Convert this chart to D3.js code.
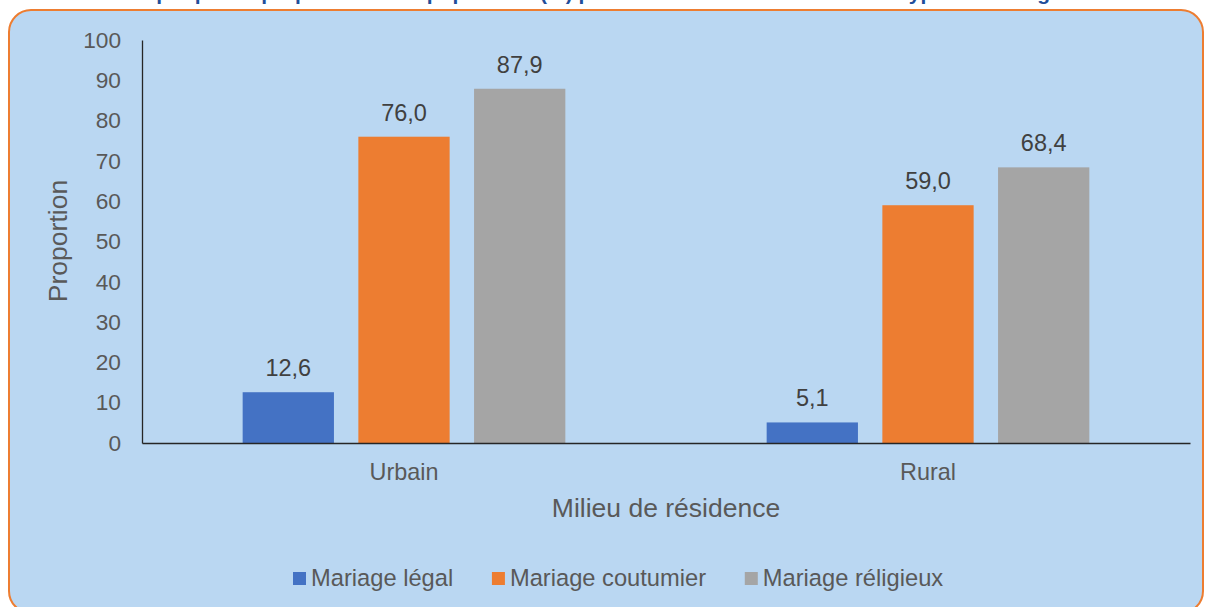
<!DOCTYPE html>
<html>
<head>
<meta charset="utf-8">
<script src="https://cdn.jsdelivr.net/npm/d3@7"></script>
<style>
  html, body { margin: 0; padding: 0; background: #ffffff; }
  svg { display: block; font-family: "Liberation Sans", Arial, sans-serif; }
</style>
</head>
<body>
<svg id="chart" width="1206" height="607"></svg>
<script>
// ---- data ----
const categories = ["Urbain", "Rural"];
const seriesNames = ["Mariage légal", "Mariage coutumier", "Mariage réligieux"];
const mariageLegal = [12.6, 5.1];
const mariageCoutumier = [76.0, 59.0];
const mariageReligieux = [87.9, 68.4];
const yTicks = [0, 10, 20, 30, 40, 50, 60, 70, 80, 90, 100];
const titleText = "Graphique 2 : proportion de la population (%) par milieu de résidence selon le type de mariage";
const xAxisTitle = "Milieu de résidence";
const yAxisTitle = "Proportion";

(function () {
const seriesValues = [mariageLegal, mariageCoutumier, mariageReligieux];
const colors = ["#4472C4", "#ED7D31", "#A5A5A5"];

const svg = d3.select("#chart");

// panel
svg.append("rect")
  .attr("x", 9).attr("y", 10)
  .attr("width", 1194).attr("height", 603)
  .attr("rx", 22).attr("ry", 22)
  .attr("fill", "#BAD7F2")
  .attr("stroke", "#ED7D31").attr("stroke-width", 2);

// title (cut off at the top edge, as in the source image)
svg.append("text")
  .attr("x", 120).attr("y", -0.5)
  .attr("font-size", 21).attr("font-weight", "bold")
  .attr("fill", "#1F4E9A")
  .text(titleText);

const pLeft = 142, pRight = 1190, pTop = 40, pBottom = 443;

const x0 = d3.scaleBand().domain(categories).range([pLeft, pRight]).padding(0);
const x1 = d3.scaleBand().domain(seriesNames).range([0, x0.bandwidth()])
  .paddingInner(0.211).paddingOuter(0.87);
const y = d3.scaleLinear().domain([0, 100]).range([pBottom, pTop]);

const fmtLocale = d3.formatLocale({decimal: ",", thousands: " ", grouping: [3], currency: ["", ""]});
const fmt = fmtLocale.format(".1f");

// y axis
const yAxis = d3.axisLeft(y).tickValues(yTicks).tickSize(0).tickPadding(21).tickFormat(d3.format("d"));
const gy = svg.append("g").attr("transform", `translate(${pLeft},0)`).call(yAxis);
gy.select(".domain").attr("stroke", "#262626").attr("stroke-width", 1.3);
gy.selectAll("text").attr("font-size", 22.7).attr("fill", "#595959")
  .attr("font-family", "Liberation Sans, Arial, sans-serif");

// bars
const groups = svg.append("g").selectAll("g")
  .data(categories)
  .join("g")
  .attr("transform", d => `translate(${x0(d)},0)`);

seriesNames.forEach((s, si) => {
  groups.append("rect")
    .attr("x", x1(s))
    .attr("y", (d, ci) => y(seriesValues[si][ci]))
    .attr("width", x1.bandwidth())
    .attr("height", (d, ci) => y(0) - y(seriesValues[si][ci]))
    .attr("fill", colors[si]);
  groups.append("text")
    .attr("x", x1(s) + x1.bandwidth() / 2)
    .attr("y", (d, ci) => y(seriesValues[si][ci]) - 16)
    .attr("text-anchor", "middle")
    .attr("font-size", 23.5)
    .attr("fill", "#404040")
    .text((d, ci) => fmt(seriesValues[si][ci]));
});

// x axis
const xAxis = d3.axisBottom(x0).tickSize(0).tickPadding(20);
const gx = svg.append("g").attr("transform", `translate(0,${pBottom})`).call(xAxis);
gx.select(".domain").attr("stroke", "#262626").attr("stroke-width", 1.5);
gx.selectAll("text").attr("font-size", 23.4).attr("fill", "#595959")
  .attr("font-family", "Liberation Sans, Arial, sans-serif")
  .attr("dy", null).attr("y", 37);

// axis titles
svg.append("text")
  .attr("x", (pLeft + pRight) / 2).attr("y", 517)
  .attr("text-anchor", "middle").attr("font-size", 26.5).attr("fill", "#595959")
  .text(xAxisTitle);
svg.append("text")
  .attr("transform", "translate(67,241) rotate(-90)")
  .attr("text-anchor", "middle").attr("font-size", 26.5).attr("fill", "#595959")
  .text(yAxisTitle);

// legend
const legend = svg.append("g");
let lx = 293;
seriesNames.forEach((s, i) => {
  legend.append("rect").attr("x", lx).attr("y", 572).attr("width", 13).attr("height", 13)
    .attr("fill", colors[i]);
  const t = legend.append("text").attr("x", lx + 18).attr("y", 585.5)
    .attr("font-size", 23.7).attr("fill", "#595959").text(s);
  lx += 18 + t.node().getComputedTextLength() + 38.7;
});
})();
</script>
</body>
</html>
